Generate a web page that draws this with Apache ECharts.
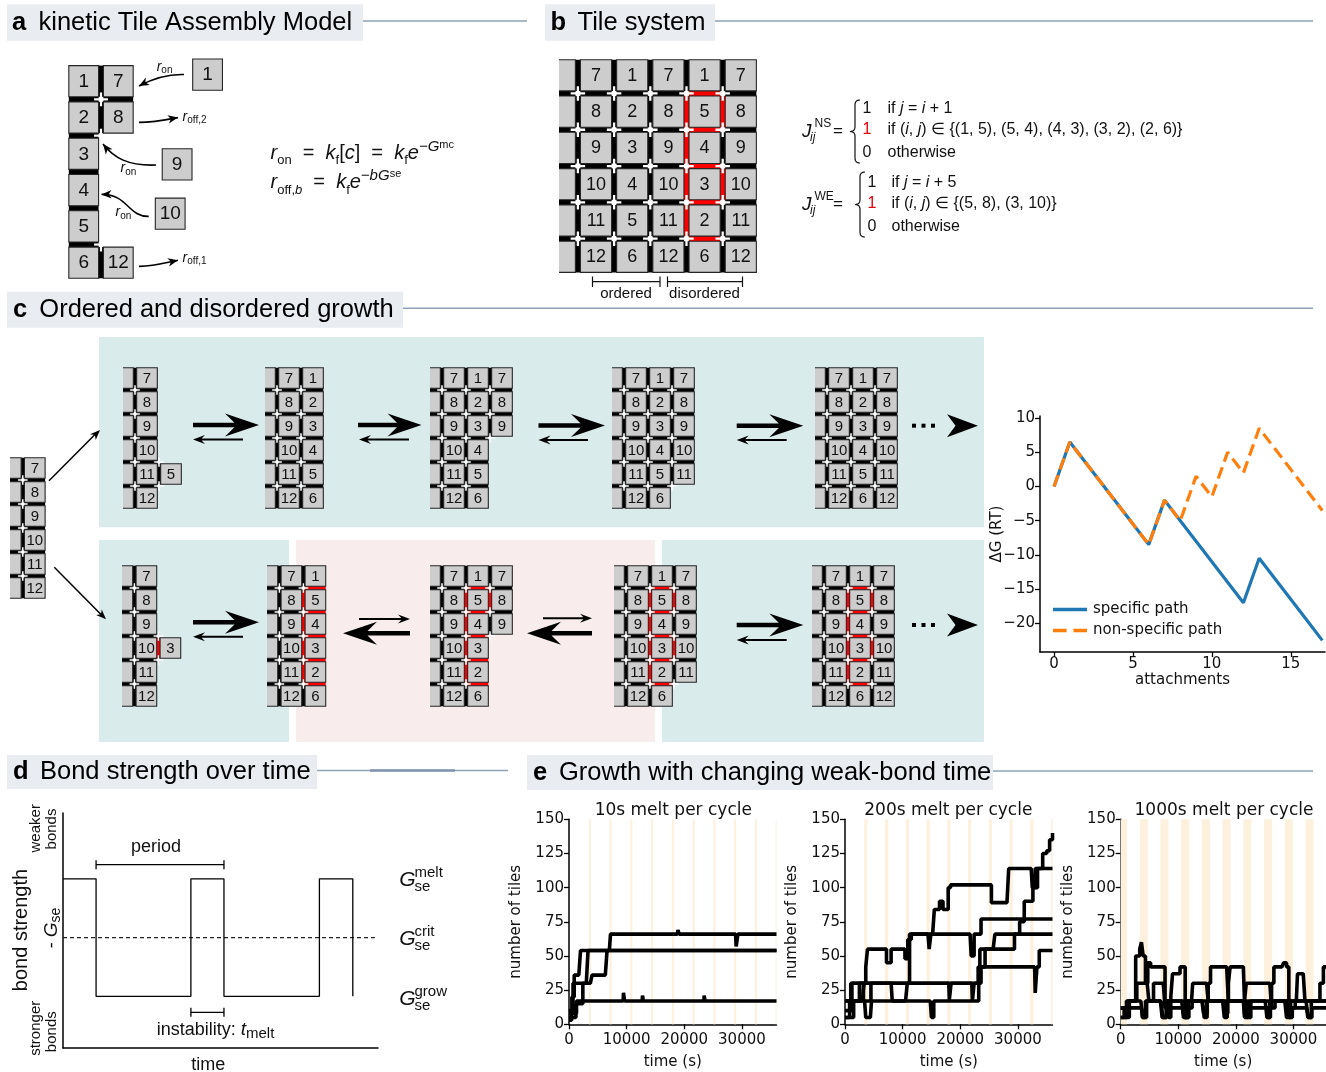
<!DOCTYPE html>
<html>
<head>
<meta charset="utf-8">
<title>kTAM growth figure</title>
<script src="https://cdn.jsdelivr.net/npm/echarts@6/dist/echarts.min.js"></script>
<style>
  html, body { margin: 0; padding: 0; background: #fff; }
  #main { width: 1326px; height: 1072px; }
</style>
</head>
<body>
<div id="main"></div>
<script>
// ---------------- data ----------------
// panel c (right): free energy along the two growth paths
const attachments = [0, 1, 2, 3, 4, 5, 6, 7, 8, 9, 10, 11, 12, 13, 14, 15, 16, 17];
const specificPath = [0, 6.5, 3.5, 0.5, -2.5, -5.5, -8.5, -2, -5, -8, -11, -14, -17, -10.5, -13.5, -16.5, -19.5, -22.5];
const nonSpecificPath = [0, 6.5, 3.5, 0.5, -2.5, -5.5, -8.5, -2, -5, 1.5, -1.5, 5, 2, 8.5, 5.5, 2.5, -0.5, -3.5];
const dgTicksX = [0, 5, 10, 15];
const dgTicksY = [-20, -15, -10, -5, 0, 5, 10];

// panel e: number of tiles, [time (s), tiles] at every change
const melt10A = [[0, 3], [450, 8], [1300, 17], [9400, 17], [9450, 23], [9650, 17], [12700, 17], [12750, 21], [12900, 17], [23400, 17], [23450, 21], [23600, 17], [36000, 17]];
const melt10B = [[0, 8], [500, 20], [900, 36], [1700, 36], [2000, 54], [36000, 54]];
const melt10C = [[0, 5], [1200, 15], [2400, 30], [3000, 30], [3300, 54], [36000, 54]];
const melt10D = [[0, 10], [700, 30], [3700, 30], [4000, 36], [6300, 36], [6600, 54], [7000, 54], [7200, 66], [18800, 66], [18900, 69], [19100, 66], [28900, 66], [29000, 57], [29300, 66], [36000, 66]];
const melt200A = [[0, 17], [1000, 30], [3000, 30], [3600, 42], [3900, 55], [7200, 45], [8000, 55], [10400, 48], [10900, 62], [11500, 66], [15200, 66], [15500, 84], [16400, 90], [17000, 84], [17900, 100], [18300, 102], [25000, 102], [25400, 89], [28100, 89], [28400, 114], [32300, 114], [32500, 100], [33000, 114], [36000, 114]];
const melt200B = [[0, 5], [800, 17], [2500, 30], [3200, 17], [4500, 30], [9000, 30], [11200, 66], [14400, 66], [14600, 55], [14900, 66], [21700, 66], [21900, 50], [22400, 66], [23600, 77], [36000, 77]];
const melt200C = [[0, 17], [3400, 17], [3600, 5], [4400, 5], [4600, 17], [14800, 17], [15000, 5], [15400, 17], [22800, 17], [23200, 30], [23600, 42], [24300, 55], [25700, 55], [26000, 66], [36000, 66]];
const melt200D = [[0, 10], [1200, 30], [18000, 30], [18100, 18], [18400, 30], [22000, 30], [22100, 17], [22400, 30], [23100, 42], [32900, 42], [33000, 23], [33300, 42], [33700, 54], [36000, 54]];
const melt200E = [[0, 5], [1500, 17], [3000, 17], [3300, 30], [8000, 30], [8200, 17], [10500, 17], [10800, 30], [23000, 30], [23400, 55], [28700, 55], [29400, 66], [30300, 75], [31100, 90], [32000, 90], [32600, 100], [33400, 114], [34300, 125], [35000, 127], [35500, 135], [36000, 140]];
const melt1000A = [[0, 5], [600, 12], [1500, 17], [2600, 50], [3300, 55], [3600, 60], [3900, 50], [4300, 30], [4700, 45], [5200, 42], [7700, 17], [8300, 5], [8700, 20], [9000, 37], [10300, 42], [11200, 5], [11800, 12], [12400, 17], [15200, 30], [15600, 42], [18400, 42], [18700, 17], [21600, 17], [22000, 5], [22600, 17], [26200, 30], [26600, 42], [28000, 42], [28300, 45], [28800, 42], [29200, 5], [29800, 12], [30300, 17], [34000, 17], [34600, 30], [35200, 42], [36000, 48]];
const melt1000B = [[0, 12], [1200, 17], [2800, 30], [4600, 30], [4900, 17], [5700, 30], [7400, 30], [7700, 12], [8300, 17], [12300, 17], [12500, 30], [14900, 30], [15200, 17], [18700, 30], [19000, 42], [21300, 42], [21500, 17], [21800, 30], [25900, 30], [26200, 12], [26800, 17], [30500, 17], [30700, 37], [31700, 37], [32000, 17], [36000, 17]];
const melt1000C = [[0, 5], [1000, 17], [3500, 17], [3800, 5], [4500, 17], [7000, 17], [7300, 5], [7900, 17], [10600, 17], [10900, 5], [11500, 17], [14200, 17], [14500, 5], [15000, 17], [17700, 17], [18000, 5], [18500, 17], [21300, 17], [21500, 5], [22100, 17], [25100, 17], [25400, 5], [25900, 17], [28500, 17], [28800, 5], [29500, 17], [32200, 17], [32500, 5], [33100, 17], [36000, 20]];
const melt1000D = [[0, 12], [800, 5], [1500, 12], [3600, 12], [3800, 5], [4300, 17], [6900, 17], [7200, 5], [8000, 12], [10800, 12], [11000, 5], [11800, 17], [14100, 17], [14400, 8], [15000, 17], [17600, 17], [18000, 8], [18600, 17], [21000, 17], [21500, 8], [22000, 12], [25000, 12], [25500, 5], [26000, 17], [28500, 17], [29000, 8], [29600, 12], [32300, 12], [32600, 5], [33200, 12], [36000, 18]];
// melt phases (s)
const melt10Bands = [[3450, 3800], [7050, 7400], [10650, 11000], [14250, 14600], [17850, 18200], [21450, 21800], [25050, 25400], [28650, 29000], [32250, 32600], [35850, 36000]];
const melt200Bands = [[3350, 3900], [6950, 7500], [10550, 11100], [14150, 14700], [17750, 18300], [21350, 21900], [24950, 25500], [28550, 29100], [32150, 32700], [35750, 36000]];
const melt1000Bands = [[0, 1100], [3300, 4700], [6900, 8300], [10500, 11900], [14100, 15500], [17700, 19100], [21300, 22700], [24900, 26300], [28500, 29900], [32100, 33500]];
const timeTicks = [0, 10000, 20000, 30000];
const tileTicks = [0, 25, 50, 75, 100, 125, 150];

// panel d: schematic bond-strength schedule (arbitrary units)
const dSwitchTimes = [0, 10.5, 40.6, 51.1, 81.4, 92.0];
const dLevels = [72, 22, 72, 22, 72, 22];
const dCrit = 47;
const dBrackets = [[10.5, 51.1, 78], [40.6, 51.1, 15.2]];

// tile columns (top to bottom), null = empty site
const colA = [7, 8, 9, 10, 11, 12];
const colB = [1, 2, 3, 4, 5, 6];
const colMis = [1, 5, 4, 3, 2, 6];
const kTAMCols = [colB, [7, 8, null, null, null, 12]];
const kTAMFree = [[4.08, 0.32, 1], [3.2, 2.79, 9], [3.0, 4.15, 10]];
const systemCols = [colA, colB, colA, colMis, colA];
const systemRedH = [[2, 1], [2, 2], [2, 3], [2, 4], [3, 1], [3, 3]];
const systemRedV = [[3, 0], [3, 1], [3, 2], [3, 3], [3, 4]];
const seedCols = [colA];
const orderedFrames = [
  [colA, [null, null, null, null, 5, null]],
  [colA, colB],
  [colA, colB, [7, 8, 9, null, null, null]],
  [colA, colB, [7, 8, 9, 10, 11, null]],
  [colA, colB, colA]
];
const disorderedFrames = [
  [colA, [null, null, null, 3, null, null]],
  [colA, colMis],
  [colA, colMis, [7, 8, 9, null, null, null]],
  [colA, colMis, [7, 8, 9, 10, 11, null]],
  [colA, colMis, colA]
];
const misRedV = [[1, 0], [1, 1], [1, 2], [1, 3], [1, 4]];
const disorderedRedV = [[], misRedV, misRedV, misRedV, misRedV];
const disorderedRedH = [
  [[0, 3]],
  [[0, 1], [0, 2], [0, 3], [0, 4]],
  [[0, 1], [0, 2], [0, 3], [0, 4], [1, 1]],
  [[0, 1], [0, 2], [0, 3], [0, 4], [1, 1], [1, 3]],
  [[0, 1], [0, 2], [0, 3], [0, 4], [1, 1], [1, 3]]
];

// ---------------- layout ----------------
const FS = '"Liberation Sans", Arial, Helvetica, sans-serif';
const FD = '"DejaVu Sans", sans-serif';
const TILE = 0.86;
const orderedAt = [[147, 378], [289, 378], [454, 378], [636, 378], [839, 378]];
const disorderedAt = [[146.4, 576], [291.4, 576], [454, 576], [638, 576], [836, 576]];

const grids = [], xAxes = [], yAxes = [], series = [], G = [];

function addGrid(box, xa, ya) {
  grids.push(Object.assign({ outerBoundsMode: 'none', containLabel: false }, box));
  const gi = grids.length - 1;
  xAxes.push(Object.assign({ gridIndex: gi }, xa));
  yAxes.push(Object.assign({ gridIndex: gi }, ya));
  return gi;
}

function frameItems(cols, redH, redV, seed, free) {
  const all = seed ? [['', '', '', '', '', '']].concat(cols) : cols;
  const off = seed ? -1 : 0;
  const has = (c, r) => { const col = all[c - off]; return !!col && r >= 0 && r < 6 && col[r] != null; };
  const red = (list, c, r) => list.some(q => q[0] === c && q[1] === r);
  const bonds = [], crosses = [], tiles = [];
  for (let i = 0; i < all.length; i++) {
    const c = i + off;
    for (let r = 0; r < 6; r++) {
      const n = [has(c, r), has(c + 1, r), has(c, r + 1), has(c + 1, r + 1)].filter(Boolean).length;
      if (r < 5 && n >= 3) crosses.push({ k: 'x', x: c + 1, y: r + 1 });
      if (!has(c, r)) continue;
      if (has(c + 1, r)) bonds.push({ k: 'bh', x: c + 1, y: r + 0.5, red: red(redH, c, r) });
      if (has(c, r + 1)) bonds.push({ k: 'bv', x: c + 0.5, y: r + 1, red: red(redV, c, r) });
      tiles.push({ k: 't', x: c + 0.5, y: r + 0.5, label: String(all[i][r]) });
    }
  }
  (free || []).forEach(f => tiles.push({ k: 't', x: f[0], y: f[1], label: String(f[2]) }));
  return bonds.concat(crosses, tiles);
}

function tileRenderer(items, fontPx) {
  return function (params, api) {
    const d = items[params.dataIndex];
    const p = api.coord([d.x, d.y]);
    const s = api.size([1, 1]);
    const ux = Math.abs(s[0]), uy = Math.abs(s[1]);
    const w = ux * TILE, h = uy * TILE, gx = ux - w, gy = uy - h;
    if (d.k === 't') {
      return { type: 'group', children: [
        { type: 'rect', shape: { x: p[0] - w / 2, y: p[1] - h / 2, width: w, height: h }, style: { fill: '#cdcdcd', stroke: '#262626', lineWidth: 1.1 } },
        { type: 'text', style: { text: d.label, x: p[0], y: p[1] + 0.5, align: 'center', verticalAlign: 'middle', fontSize: fontPx, fontFamily: FS, fill: '#111' } }
      ] };
    }
    const col = d.red ? '#ff0000' : '#000';
    if (d.k === 'bh') return { type: 'rect', shape: { x: p[0] - gx / 2 - 0.6, y: p[1] - h / 2, width: gx + 1.2, height: h }, style: { fill: col } };
    if (d.k === 'bv') return { type: 'rect', shape: { x: p[0] - w / 2, y: p[1] - gy / 2 - 0.6, width: w, height: gy + 1.2 }, style: { fill: col } };
    const arm = ux * 0.2, t = Math.max(1.4, gx * 0.45);
    return { type: 'group', children: [
      { type: 'rect', shape: { x: p[0] - arm, y: p[1] - t / 2, width: 2 * arm, height: t }, style: { fill: '#fff' } },
      { type: 'rect', shape: { x: p[0] - t / 2, y: p[1] - arm, width: t, height: 2 * arm }, style: { fill: '#fff' } }
    ] };
  };
}

function addFrame(cols, redH, redV, seed, at, px, py, fontPx, free, xmaxIn) {
  const items = frameItems(cols, redH, redV, seed, free);
  const xmin = seed ? -0.5 : -0.1, xmax = xmaxIn || cols.length + 0.1;
  const gi = addGrid(
    { left: at[0] + (xmin - 0.5) * px, top: at[1] - 0.6 * py, width: (xmax - xmin) * px, height: 6.2 * py },
    { type: 'value', min: xmin, max: xmax, show: false },
    { type: 'value', min: -0.1, max: 6.1, inverse: true, show: false });
  series.push({ type: 'custom', xAxisIndex: gi, yAxisIndex: gi, clip: seed, silent: true, z: 5,
    data: items.map(d => [d.x, d.y]), renderItem: tileRenderer(items, fontPx) });
}

// ---------------- graphic helpers ----------------
function txt(x, y, text, st, el) {
  G.push(Object.assign({ type: 'text', x: x, y: y, z: 50, silent: true,
    style: Object.assign({ text: text, fontSize: 15, fontFamily: FS, fill: '#111', align: 'left', verticalAlign: 'middle' }, st || {}) }, el || {}));
}
function rect(x, y, w, h, fill, z) { G.push({ type: 'rect', z: z == null ? 0 : z, silent: true, shape: { x: x, y: y, width: w, height: h }, style: { fill: fill } }); }
function seg(x1, y1, x2, y2, color, width, extra) {
  G.push({ type: 'line', z: 50, silent: true, shape: { x1: x1, y1: y1, x2: x2, y2: y2 }, style: Object.assign({ stroke: color, lineWidth: width }, extra || {}) });
}
function head(tx, ty, fx, fy, len, half) {
  const a = Math.atan2(ty - fy, tx - fx), c = Math.cos(a), s = Math.sin(a);
  const bx = tx - c * len, by = ty - s * len, nx = tx - c * len * 0.72, ny = ty - s * len * 0.72;
  G.push({ type: 'polygon', z: 51, silent: true, shape: { points: [[tx, ty], [bx - s * half, by + c * half], [nx, ny], [bx + s * half, by - c * half]] }, style: { fill: '#000' } });
}
function curveArrow(x1, y1, c1x, c1y, c2x, c2y, x2, y2) {
  G.push({ type: 'bezierCurve', z: 50, silent: true, shape: { x1: x1, y1: y1, cpx1: c1x, cpy1: c1y, cpx2: c2x, cpy2: c2y, x2: x2, y2: y2 }, style: { stroke: '#000', lineWidth: 1.6, fill: null } });
  head(x2, y2, c2x, c2y, 10, 4.2);
}
function fatArrow(x1, x2, y, shaft, len, half) {
  const d = Math.sign(x2 - x1), xb = x2 - d * len, xn = x2 - d * len * 0.72;
  G.push({ type: 'polygon', z: 50, silent: true, shape: { points: [[x1, y - shaft / 2], [xn, y - shaft / 2], [xb, y - half], [x2, y], [xb, y + half], [xn, y + shaft / 2], [x1, y + shaft / 2]] }, style: { fill: '#000' } });
}
function big(x1, x2, y) { fatArrow(x1, x2, y, 4.6, 34, 11.5); }
function small(x1, x2, y) { fatArrow(x1, x2, y, 2, 12, 4.5); }
function dotsArrow(y) {
  [914, 923.5, 933].forEach(x => rect(x - 2, y - 2, 4, 4, '#000', 50));
  G.push({ type: 'polygon', z: 50, silent: true, shape: { points: [[978, y], [947, y - 11.5], [955.5, y], [947, y + 11.5]] }, style: { fill: '#000' } });
}
function bracePoints(x, y1, y2, w) {
  const pts = [], m = (y1 + y2) / 2;
  const quad = (a, c, b) => { for (let k = 0; k <= 8; k++) { const t = k / 8, u = 1 - t; pts.push([u * u * a[0] + 2 * u * t * c[0] + t * t * b[0], u * u * a[1] + 2 * u * t * c[1] + t * t * b[1]]); } };
  quad([x + w, y1], [x + w / 2, y1], [x + w / 2, y1 + w / 2]);
  quad([x + w / 2, m - w / 2], [x + w / 2, m], [x, m]);
  quad([x, m], [x + w / 2, m], [x + w / 2, m + w / 2]);
  quad([x + w / 2, y2 - w / 2], [x + w / 2, y2], [x + w, y2]);
  return pts;
}
function header(letter, title, bx, by, bw, bh, lx, tx, lineEnd) {
  rect(bx, by, bw, bh, '#e9edf2', 1);
  const cy = by + bh / 2;
  txt(lx, cy, letter, { fontSize: 25.5, fontWeight: 'bold', fill: '#000' });
  txt(tx, cy, title, { fontSize: 25.5, fill: '#000' });
  seg(bx + bw, cy - 1.5, lineEnd, cy - 1.5, '#8ea2b9', 1.5);
}
const richEq = {
  n: { fontSize: 20, fontFamily: FS, lineHeight: 28, fill: '#111' },
  i: { fontSize: 20, fontFamily: FS, fontStyle: 'italic', lineHeight: 28, fill: '#111' },
  s: { fontSize: 13, fontFamily: FS, lineHeight: 13, verticalAlign: 'bottom', fill: '#111' },
  si: { fontSize: 13, fontFamily: FS, fontStyle: 'italic', lineHeight: 13, verticalAlign: 'bottom', fill: '#111' },
  p: { fontSize: 15, fontFamily: FS, fontStyle: 'italic', lineHeight: 15, verticalAlign: 'top', fill: '#111' },
  ps: { fontSize: 11, fontFamily: FS, lineHeight: 22, verticalAlign: 'top', fill: '#111' }
};
const richSmall = {
  i: { fontSize: 14, fontFamily: FS, fontStyle: 'italic', lineHeight: 18, fill: '#111' },
  s: { fontSize: 10, fontFamily: FS, lineHeight: 10, verticalAlign: 'bottom', fill: '#111' },
  si: { fontSize: 10, fontFamily: FS, fontStyle: 'italic', lineHeight: 10, verticalAlign: 'bottom', fill: '#111' }
};
const richRow = {
  n: { fontSize: 16, fontFamily: FS, fill: '#111' },
  i: { fontSize: 16, fontFamily: FS, fontStyle: 'italic', fill: '#111' }
};

// ---------------- panel headers ----------------
header('a', 'kinetic Tile Assembly Model', 7, 4.3, 356, 36.4, 12, 38.5, 527);
header('b', 'Tile system', 545, 4.3, 170, 36.4, 550.5, 577.5, 1313);
header('c', 'Ordered and disordered growth', 7, 291.7, 396, 36, 13, 39.3, 1313);
header('d', 'Bond strength over time', 7, 755, 310, 34, 13, 40, 508);
seg(370, 770.5, 455, 770.5, '#7f94ac', 2.6);
header('e', 'Growth with changing weak-bond time', 527, 755, 466, 35, 533, 559, 1313);

// ---------------- panel a ----------------
addFrame(kTAMCols, [], [], false, [83.7, 81.2], 34.6, 36.3, 19, kTAMFree, 5);
curveArrow(184, 74.5, 168, 74, 152, 79, 139, 86);
curveArrow(139, 122.4, 152, 122.5, 165, 120, 178, 117.6);
curveArrow(156, 165, 128, 166, 114, 158, 103, 144);
curveArrow(148.7, 216.4, 128, 217, 128, 194, 101.5, 194.4);
curveArrow(139, 266.4, 152, 266.5, 165, 263, 178, 260.3);
txt(164.6, 66.7, '{i|r}{s|on}', { rich: richSmall, align: 'center' });
txt(182.6, 116.7, '{i|r}{s|off,2}', { rich: richSmall });
txt(128.5, 168.3, '{i|r}{s|on}', { rich: richSmall, align: 'center' });
txt(123.4, 212.3, '{i|r}{s|on}', { rich: richSmall, align: 'center' });
txt(182.6, 257.7, '{i|r}{s|off,1}', { rich: richSmall });
txt(270.5, 153.3, '{i|r}{s|on}{n|  =  }{i|k}{s|f}{n|[}{i|c}{n|]  =  }{i|k}{s|f}{i|e}{p|\u2212G}{ps|mc}', { rich: richEq });
txt(270.5, 182.7, '{i|r}{s|off,}{si|b}{n|  =  }{i|k}{s|f}{i|e}{p|\u2212bG}{ps|se}', { rich: richEq });

// ---------------- panel b ----------------
addFrame(systemCols, systemRedH, systemRedV, true, [596, 75.3], 36.2, 36.3, 18);
function jLabel(y, sup) {
  txt(802, y, 'J', { fontSize: 19, fontStyle: 'italic' });
  txt(814.5, y - 8, sup, { fontSize: 12 });
  txt(810, y + 6.5, 'ij', { fontSize: 12, fontStyle: 'italic' });
  txt(833, y, '=', { fontSize: 17 });
}
jLabel(131.5, 'NS');
jLabel(204.5, 'WE');
G.push({ type: 'polyline', z: 50, silent: true, shape: { points: bracePoints(850, 100, 163, 10) }, style: { stroke: '#111', lineWidth: 1.2, fill: null } });
G.push({ type: 'polyline', z: 50, silent: true, shape: { points: bracePoints(855, 172, 237, 10) }, style: { stroke: '#111', lineWidth: 1.2, fill: null } });
txt(862.5, 108.3, '1', { fontSize: 16 });
txt(887.5, 108.3, '{n|if }{i|j}{n| = }{i|i}{n| + 1}', { rich: richRow });
txt(862.5, 130, '1', { fontSize: 16, fill: '#e8000b' });
txt(887.5, 130, '{n|if (}{i|i}{n|, }{i|j}) \u2208 {(1, 5), (5, 4), (4, 3), (3, 2), (2, 6)}', { rich: richRow, fontSize: 16 });
txt(862.5, 152.3, '0', { fontSize: 16 });
txt(887.5, 152.3, 'otherwise', { fontSize: 16 });
txt(867.5, 182.3, '1', { fontSize: 16 });
txt(891.5, 182.3, '{n|if }{i|j}{n| = }{i|i}{n| + 5}', { rich: richRow });
txt(867.5, 204, '1', { fontSize: 16, fill: '#e8000b' });
txt(891.5, 204, '{n|if (}{i|i}{n|, }{i|j}) \u2208 {(5, 8), (3, 10)}', { rich: richRow, fontSize: 16 });
txt(867.5, 226.7, '0', { fontSize: 16 });
txt(891.5, 226.7, 'otherwise', { fontSize: 16 });
[[592.5, 660], [667.5, 742.5]].forEach(b => {
  seg(b[0], 281.7, b[1], 281.7, '#111', 1.2);
  seg(b[0], 276.5, b[0], 287, '#111', 1.2);
  seg(b[1], 276.5, b[1], 287, '#111', 1.2);
});
txt(626, 293.5, 'ordered', { fontSize: 15, align: 'center' });
txt(704.5, 293.5, 'disordered', { fontSize: 15, align: 'center' });

// ---------------- panel c ----------------
rect(99, 337, 885, 190.3, '#d9ebeb', 0);
rect(99, 540, 190, 202, '#d9ebeb', 0);
rect(296, 540, 359, 202, '#f9ecec', 0);
rect(662, 540, 322, 202, '#d9ebeb', 0);
addFrame(seedCols, [], [], true, [34.8, 468], 24, 24, 15);
orderedFrames.forEach((f, k) => addFrame(f, [], [], true, orderedAt[k], 24, 24, 15));
disorderedFrames.forEach((f, k) => addFrame(f, disorderedRedH[k], disorderedRedV[k], true, disorderedAt[k], 24, 24, 15));
seg(49, 480.7, 97, 432.5, '#000', 1.5); head(100, 430, 49, 480.7, 10, 4);
seg(54.3, 567.3, 103, 616.5, '#000', 1.5); head(106, 619.3, 54.3, 567.3, 10, 4);
big(193, 259, 425); small(243, 193, 439.5);
big(358, 421.5, 425); small(409, 359, 439.5);
big(538.5, 605, 425.5); small(588, 538.5, 440);
big(736.7, 803.3, 425.7); small(786.7, 736.7, 440);
dotsArrow(425.7);
big(193, 259, 622.3); small(243, 193, 636.7);
small(359, 410, 619); big(410, 343, 633.3);
small(543, 592, 618.3); big(592, 527, 633.3);
big(736.7, 803.3, 625); small(786.7, 736.7, 640);
dotsArrow(625);

// free-energy chart
function mplAxis(ticks, extra) {
  return Object.assign({
    type: 'value',
    axisLine: { show: true, onZero: false, lineStyle: { color: '#000', width: 1.5 } },
    axisTick: { show: true, inside: false, length: 5, customValues: ticks, lineStyle: { color: '#000', width: 1.3 } },
    axisLabel: { show: true, customValues: ticks, color: '#111', fontSize: 15, fontFamily: FD, margin: 5,
      formatter: v => String(v).replace('-', '\u2212') },
    splitLine: { show: false },
    nameLocation: 'middle',
    nameMoveOverlap: false,
    nameTextStyle: { color: '#111', fontSize: 15, fontFamily: FD }
  }, extra);
}
const gDG = addGrid({ left: 1040, top: 416, width: 285, height: 236 },
  mplAxis(dgTicksX, { min: -0.89, max: 17.17, name: 'attachments', nameGap: 21 }),
  mplAxis(dgTicksY, { min: -24.2, max: 10.3, name: '\u0394G (RT)', nameGap: 35 }));
series.push({ type: 'line', name: 'specific path', xAxisIndex: gDG, yAxisIndex: gDG, symbol: 'none', z: 3,
  data: attachments.map((a, i) => [a, specificPath[i]]),
  lineStyle: { color: '#1f77b4', width: 3.2 }, itemStyle: { color: '#1f77b4' } });
series.push({ type: 'line', name: 'non-specific path', xAxisIndex: gDG, yAxisIndex: gDG, symbol: 'none', z: 4,
  data: attachments.map((a, i) => [a, nonSpecificPath[i]]),
  lineStyle: { color: '#ff7f0e', width: 3.2, type: [12, 6] }, itemStyle: { color: '#ff7f0e' } });

// ---------------- panel d ----------------
const plainAxis = { type: 'value', min: 0, max: 100, axisLine: { show: true, onZero: false, lineStyle: { color: '#000', width: 1.5 } },
  axisTick: { show: false }, axisLabel: { show: false }, splitLine: { show: false } };
const gD = addGrid({ left: 63, top: 813, width: 315, height: 235 }, plainAxis, plainAxis);
series.push({ type: 'line', xAxisIndex: gD, yAxisIndex: gD, step: 'end', symbol: 'none', clip: false, z: 3,
  data: dSwitchTimes.map((t, i) => [t, dLevels[i]]),
  lineStyle: { color: '#000', width: 1.3 },
  markLine: { silent: true, symbol: ['none', 'arrow'], symbolSize: [7, 9], label: { show: false },
    lineStyle: { color: '#000', width: 1.3, type: 'solid' },
    data: [[{ coord: [dSwitchTimes[dSwitchTimes.length - 1], dLevels[dLevels.length - 1]] }, { coord: [102.5, dLevels[dLevels.length - 1]] }]] } });
series.push({ type: 'line', xAxisIndex: gD, yAxisIndex: gD, symbol: 'none', z: 2,
  data: [[0, dCrit], [99, dCrit]], lineStyle: { color: '#222', width: 1.2, type: [4, 3] } });
series.push({ type: 'custom', xAxisIndex: gD, yAxisIndex: gD, silent: true, z: 3,
  data: dBrackets.map(b => [b[0], b[2]]),
  renderItem: (params, api) => {
    const b = dBrackets[params.dataIndex];
    const a = api.coord([b[0], b[2]]), c = api.coord([b[1], b[2]]), cap = 4.5;
    const ls = { stroke: '#000', lineWidth: 1.3 };
    return { type: 'group', children: [
      { type: 'line', shape: { x1: a[0], y1: a[1], x2: c[0], y2: c[1] }, style: ls },
      { type: 'line', shape: { x1: a[0], y1: a[1] - cap, x2: a[0], y2: a[1] + cap }, style: ls },
      { type: 'line', shape: { x1: c[0], y1: c[1] - cap, x2: c[0], y2: c[1] + cap }, style: ls }
    ] };
  } });
txt(156, 846.7, 'period', { fontSize: 18, align: 'center' });
txt(156.7, 1030, '{n|instability: }{i|t}{s|melt}', { rich: {
  n: { fontSize: 18, fontFamily: FS, lineHeight: 22, fill: '#111' },
  i: { fontSize: 19, fontFamily: FS, fontStyle: 'italic', lineHeight: 22, fill: '#111' },
  s: { fontSize: 15, fontFamily: FS, lineHeight: 15, verticalAlign: 'bottom', fill: '#111' } } });
txt(208.3, 1065, 'time', { fontSize: 18, align: 'center' });
[['melt', 880], ['crit', 939], ['grow', 999]].forEach(g => {
  txt(399.3, g[1], 'G', { fontSize: 21, fontStyle: 'italic' });
  txt(414.5, g[1] - 7, g[0], { fontSize: 15 });
  txt(414.5, g[1] + 6.5, 'se', { fontSize: 15 });
});
txt(21.7, 930, 'bond strength', { fontSize: 20, align: 'center' }, { rotation: Math.PI / 2 });
txt(51.7, 928, '{n|- }{i|G}{s|se}', { align: 'center', rich: {
  n: { fontSize: 18, fontFamily: FS, lineHeight: 22, fill: '#111' },
  i: { fontSize: 19, fontFamily: FS, fontStyle: 'italic', lineHeight: 22, fill: '#111' },
  s: { fontSize: 14, fontFamily: FS, lineHeight: 14, verticalAlign: 'bottom', fill: '#111' } } }, { rotation: Math.PI / 2 });
txt(35.8, 828.3, 'weaker', { fontSize: 15, align: 'center' }, { rotation: Math.PI / 2 });
txt(51.7, 829, 'bonds', { fontSize: 15, align: 'center' }, { rotation: Math.PI / 2 });
txt(35.8, 1028.3, 'stronger', { fontSize: 15, align: 'center' }, { rotation: Math.PI / 2 });
txt(51.7, 1031.7, 'bonds', { fontSize: 15, align: 'center' }, { rotation: Math.PI / 2 });

// ---------------- panel e ----------------
function growthPanel(left, width, xmax, runs, bands, title, titleX) {
  const gi = addGrid({ left: left, top: 819.3, width: width, height: 205 },
    mplAxis(timeTicks, { min: 0, max: xmax, name: 'time (s)', nameGap: 30, axisLabel: { show: true, customValues: timeTicks, color: '#111', fontSize: 15, fontFamily: FD, margin: 8, formatter: v => String(v) } }),
    mplAxis(tileTicks, { min: 0, max: 150, name: 'number of tiles', nameGap: 45 }));
  series.push({ type: 'line', xAxisIndex: gi, yAxisIndex: gi, data: [], symbol: 'none', z: 1,
    markArea: { silent: true, itemStyle: { color: '#fdf0dc' }, data: bands.map(b => [{ xAxis: b[0] }, { xAxis: b[1] }]) } });
  runs.forEach(run => series.push({ type: 'line', xAxisIndex: gi, yAxisIndex: gi, data: run, step: 'end', symbol: 'none', z: 3,
    lineStyle: { color: '#000', width: 3.6 } }));
  txt(titleX, 810.7, title, { fontSize: 17, fontFamily: FD, align: 'center' });
}
growthPanel(569, 207.5, 36000, [melt10A, melt10B, melt10C, melt10D], melt10Bands, '10s melt per cycle', 673.3);
growthPanel(845, 207.5, 36000, [melt200A, melt200B, melt200C, melt200D, melt200E], melt200Bands, '200s melt per cycle', 948.3);
growthPanel(1120.7, 205, 35600, [melt1000A, melt1000B, melt1000C, melt1000D], melt1000Bands, '1000s melt per cycle', 1224);

// ---------------- chart ----------------
const chart = echarts.init(document.getElementById('main'), null, { renderer: 'canvas' });
chart.setOption({
  backgroundColor: '#fff',
  animation: false,
  grid: grids,
  xAxis: xAxes,
  yAxis: yAxes,
  legend: {
    data: [
      { name: 'specific path', icon: 'rect' },
      { name: 'non-specific path', icon: 'path://M0,0h12v3h-12z M18,0h12v3h-12z' }
    ],
    orient: 'vertical', left: 1048, top: 597, itemWidth: 34, itemHeight: 3.4, itemGap: 6,
    textStyle: { fontSize: 15, fontFamily: FD, color: '#111', padding: [0, 0, 0, 1] }
  },
  graphic: { elements: G },
  series: series
});
</script>
</body>
</html>
